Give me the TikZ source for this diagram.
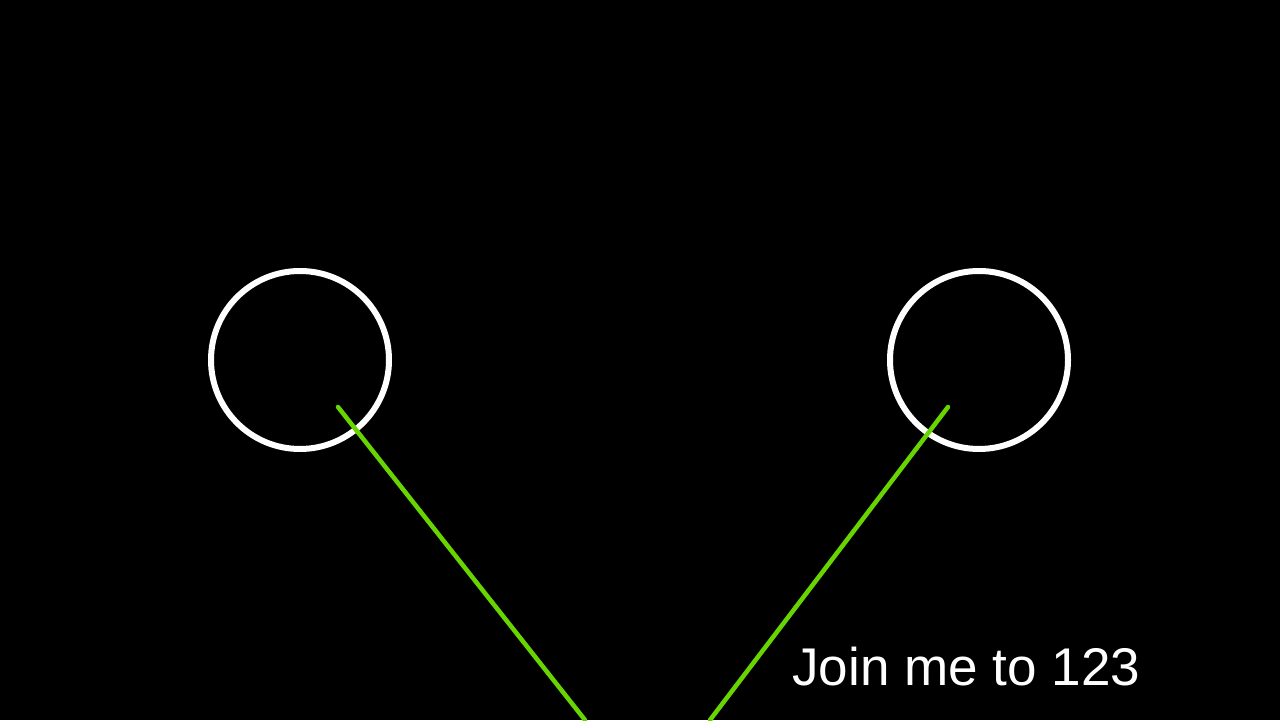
\documentclass[tikz,border=0pt]{standalone}
\usepackage{fontspec}
\setmainfont{Liberation Sans}
\usepackage{xcolor}
\definecolor{limegreen}{RGB}{104,212,0}

\begin{document}
\begin{tikzpicture}
    % Background
    \fill[black] (0,0) rectangle (25.6,14.4);
    \useasboundingbox (0,0) rectangle (25.6,14.4);

    % Circles
    \node[circle, draw=white, line width=0.12cm, minimum size=3.56cm, inner sep=0pt] (leftring) at (6.0,7.2) {};
    \node[circle, draw=white, line width=0.12cm, minimum size=3.56cm, inner sep=0pt] (rightring) at (19.58,7.2) {};

    % Line ends
    \coordinate (leftstart) at (6.76,6.26);
    \coordinate (rightstart) at (18.96,6.26);
    \coordinate (leftend) at (11.7,0);
    \coordinate (rightend) at (14.2,0);

    % Lines
    \draw[limegreen, line width=0.09cm, line cap=round] (leftstart) -- (leftend);
    \draw[limegreen, line width=0.09cm, line cap=round] (rightstart) -- (rightend);

    % Label
    \node[anchor=base west, inner sep=0pt, text=white, font=\fontsize{30.2}{36}\selectfont] (joinlabel) at (15.84,0.7) {Join me to 123};
\end{tikzpicture}
\end{document}
